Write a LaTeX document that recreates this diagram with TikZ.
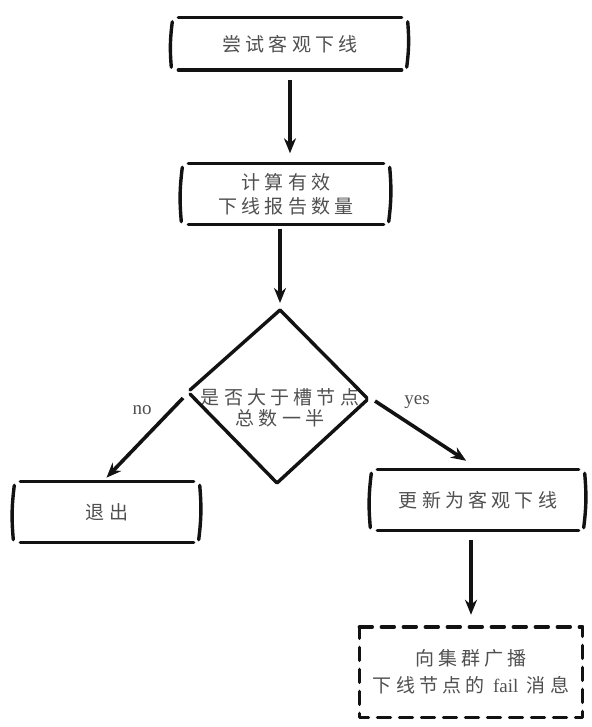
\documentclass[tikz,border=0pt]{standalone}
\usepackage{fontspec}
\setmainfont{Liberation Serif}
\newfontfamily\cjk[LetterSpace=22]{Noto Sans CJK SC}
\usetikzlibrary{arrows.meta}
\definecolor{ink}{HTML}{121212}
\definecolor{txt}{HTML}{505050}
\tikzset{
  box/.style={minimum width=#1, inner sep=0pt, align=center, text=txt,
    font=\cjk\fontsize{19}{24}\selectfont},
  stroke/.style={line width=3.4pt, line cap=round, line join=round, draw=ink},
  arr/.style={line width=3.6pt, draw=ink, -{Stealth[length=15pt,width=12pt]}},
  lbl/.style={text=txt, font=\fontsize{19}{22}\selectfont},
}
\newcommand\skbox[1]{%
  \draw[stroke] ([xshift=1pt]#1.north west) -- ([xshift=-1pt]#1.north east);
  \draw[stroke] ([xshift=1pt]#1.south west) -- ([xshift=-1pt]#1.south east);
  \draw[stroke] ([xshift=-5pt,yshift=-4pt]#1.north west) to[bend right=6] ([xshift=-6pt,yshift=3pt]#1.south west);
  \draw[stroke] ([xshift=5pt,yshift=-4pt]#1.north east) to[bend left=6] ([xshift=4pt,yshift=3pt]#1.south east);
}
\begin{document}
\begin{tikzpicture}[x=1pt,y=-1pt]
\useasboundingbox[fill=white] (0,0) rectangle (591,727);
% nodes
\node[box=225pt, minimum height=52pt] (b1) at (290,44) {尝试客观下线};
\node[box=197pt, minimum height=61pt] (b2) at (286,194) {计算有效\\下线报告数量};
\node[box=10pt, font=\cjk\fontsize{19}{21}\selectfont] (d) at (280,408) {是否大于槽节点\\总数一半};
\coordinate (dn) at (280,310);
\coordinate (de) at (367,398);
\coordinate (ds) at (277,483);
\coordinate (dw) at (190,390);
\coordinate (noA) at (183,398);
\coordinate (yesA) at (375,401);
\node[box=175pt, minimum height=61pt] (b3) at (107,512) {退出};
\node[box=203pt, minimum height=61pt] (b4) at (478,500) {更新为客观下线};
\node[box=223pt, minimum height=90pt, font=\cjk\fontsize{19}{27}\selectfont] (b5) at (471,672)
  {向集群广播\\下线节点的 {\addfontfeature{LetterSpace=0}\rmfamily fail} 消息};
% borders
\skbox{b1}
\skbox{b2}
\skbox{b3}
\skbox{b4}
\draw[stroke, dash pattern=on 13pt off 9pt]
  (b5.north west) -- (b5.north east) -- (b5.south east) -- (b5.south west) -- cycle;
\draw[stroke] (dn) -- (de);
\draw[stroke] ([yshift=-2pt]de) -- (ds) -- ([yshift=-4pt]dw);
\draw[stroke] (dw) -- (dn);
% connectors
\draw[arr, shorten <=10pt, shorten >=10pt] (b1.south) -- (b1.south |- b2.north);
\draw[arr, shorten <=4pt, shorten >=7pt] (dn |- b2.south) -- (dn);
\draw[arr, shorten >=5pt] (noA) -- ([xshift=-4pt]b3.north);
\draw[arr, shorten >=1pt] (yesA) -- ([xshift=-11pt,yshift=8pt]b4.north);
\draw[arr, shorten <=9pt, shorten >=12pt] (b5.north |- b4.south) -- (b5.north);
% labels
\node[lbl] (no) at (142,410) {no};
\node[lbl] (yes) at (417,402) {yes};
\end{tikzpicture}
\end{document}
